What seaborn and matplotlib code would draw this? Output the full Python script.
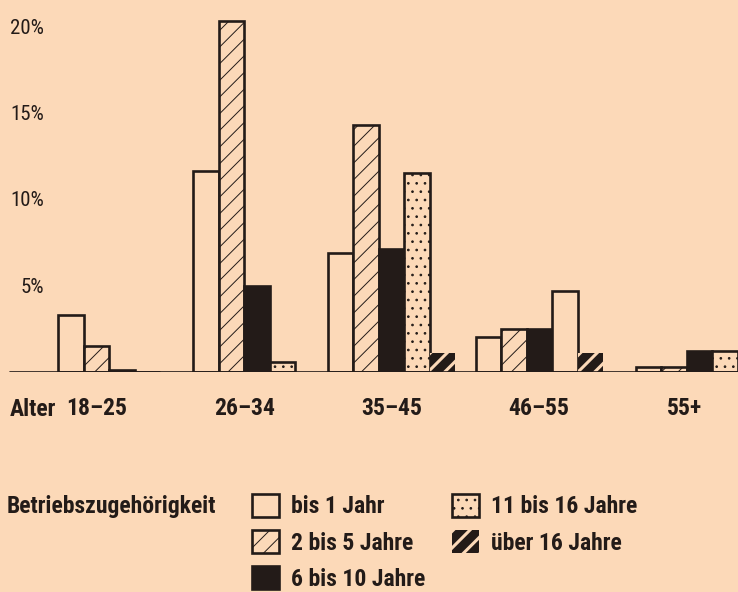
import numpy as np
import pandas as pd
import matplotlib
matplotlib.use("Agg")
import matplotlib.pyplot as plt
import matplotlib.patches as mpatches
from matplotlib import font_manager
import seaborn as sns

# ---------------- data ----------------
age_groups = ["18–25", "26–34", "35–45", "46–55", "55+"]
series = ["bis 1 Jahr", "2 bis 5 Jahre", "6 bis 10 Jahre", "11 bis 16 Jahre", "über 16 Jahre"]
bis_1_jahr = [3.3, 11.6, 6.9, 2.0, 0.3]
jahre_2_5 = [1.5, 20.3, 14.3, 2.5, 0.3]
jahre_6_10 = [0.1, 5.0, 7.1, 2.5, 1.2]
jahre_11_16 = [0.0, 0.6, 11.5, 4.7, 1.2]
ueber_16 = [0.0, 0.0, 1.1, 1.1, 0.0]
y_ticks = [5, 10, 15, 20]
y_tick_labels = ["5%", "10%", "15%", "20%"]
legend_title = "Betriebszugehörigkeit"
axis_title = "Alter"

# ---------------- layout / style ----------------
W, H = 738, 592
BG = "#FCD9B8"
DARK = "#231B18"
group_centers = [121.75, 256.75, 391.25, 539.5, 699.5]   # x positions (pixel-like units)
label_centers = [96.5, 244.5, 391.5, 539.0, 685.0]
px_per_pct = 17.3
baseline_px = 372

sns.set_theme(style="white")
avail = {f.name for f in font_manager.fontManager.ttflist}
fam = next((c for c in ["Roboto Condensed", "Liberation Sans Narrow", "Open Sans Condensed",
                        "Liberation Sans", "DejaVu Sans"] if c in avail), "DejaVu Sans")
plt.rcParams["font.family"] = [fam, "DejaVu Sans"]
plt.rcParams["hatch.linewidth"] = 0.7
plt.rcParams["text.color"] = DARK

values = [bis_1_jahr, jahre_2_5, jahre_6_10, jahre_11_16, ueber_16]
rows = []
for s, vals in zip(series, values):
    for g, c, v in zip(age_groups, group_centers, vals):
        rows.append({"Alter": g, "pos": c, "Anteil": v, "Betriebszugehörigkeit": s})
df = pd.DataFrame(rows)

palette = dict(zip(series, [BG, BG, DARK, BG, DARK]))
styles = {
    "bis 1 Jahr": dict(hatch=None, hcolor=DARK, hlw=0.7),
    "2 bis 5 Jahre": dict(hatch="//", hcolor=DARK, hlw=0.7),
    "6 bis 10 Jahre": dict(hatch=None, hcolor=DARK, hlw=0.7),
    "11 bis 16 Jahre": dict(hatch="..", hcolor=DARK, hlw=0.7),
    "über 16 Jahre": dict(hatch="//", hcolor=BG, hlw=2.2),
}

fig = plt.figure(figsize=(W / 100, H / 100), dpi=100, facecolor=BG)
ax = fig.add_axes([0, 1 - baseline_px / H, 1, baseline_px / H])
ax.set_facecolor("none")

native_gap = min(np.diff(sorted(group_centers)))
sns.barplot(data=df, x="pos", y="Anteil", hue="Betriebszugehörigkeit", hue_order=series,
            native_scale=True, dodge=True, width=127.5 / native_gap, palette=palette,
            saturation=1, errorbar=None, legend=False, edgecolor=DARK, linewidth=1.9,
            ax=ax, zorder=3)


def wrap_hatch_lw(p, lw):
    """Draw this patch with its own hatch line width."""
    if hasattr(p, "set_hatch_linewidth"):
        p.set_hatch_linewidth(lw)
    if hasattr(p, "_hatch_linewidth"):
        p._hatch_linewidth = lw
    orig = p.draw

    def draw(renderer, _orig=orig, _lw=lw):
        with plt.rc_context({"hatch.linewidth": _lw}):
            _orig(renderer)
    p.draw = draw


def style_patch(p, st):
    if st["hatch"]:
        p.set_hatch(st["hatch"])
        if hasattr(p, "set_hatchcolor"):
            p.set_hatchcolor(st["hcolor"])
        elif st["hcolor"] != DARK:
            p.set_edgecolor(st["hcolor"])
            p.set_linewidth(0)
        if st["hlw"] != 0.7:
            wrap_hatch_lw(p, st["hlw"])


for s, cont in zip(series, ax.containers):
    for g, p in zip(age_groups, cont.patches):
        style_patch(p, styles[s])
        # the 46–55 bar of this series is printed without dots in the original
        if s == "11 bis 16 Jahre" and g == "46–55":
            p.set_hatch(None)

ax.axhline(0, xmin=10 / W, xmax=1, color=DARK, lw=1.2, zorder=4)
ax.set_xlim(0, W)
ax.set_ylim(0, baseline_px / px_per_pct)
for sp in ax.spines.values():
    sp.set_visible(False)

ax.set_yticks(y_ticks, y_tick_labels)
ax.tick_params(axis="y", length=0, pad=-44 * 0.72, labelsize=15, labelcolor=DARK)
ax.set_xticks(label_centers, age_groups)
ax.tick_params(axis="x", length=0, pad=18, labelsize=17, labelcolor=DARK)
for t in ax.get_xticklabels():
    t.set_fontweight("bold")
ax.set_xlabel("")
ax.set_ylabel("")
ax.grid(False)

fig.text(10 / W, 1 - 409 / H, axis_title, ha="left", va="center", fontsize=17,
         fontweight="bold", color=DARK)
fig.text(7 / W, 1 - 506 / H, legend_title, ha="left", va="center", fontsize=17,
         fontweight="bold", color=DARK)


def make_handle(s):
    h = mpatches.Patch(facecolor=palette[s], edgecolor=DARK, linewidth=1.9)
    st = dict(styles[s])
    st["hlw"] = 0.7
    style_patch(h, st)
    return h


fs_px = 17 * 100 / 72
common = dict(frameon=False, prop={"weight": "bold", "size": 17},
              handlelength=27 / fs_px, handleheight=26 / fs_px, handletextpad=12 / fs_px,
              labelspacing=0.5, borderpad=0, borderaxespad=0, loc="upper left",
              labelcolor=DARK)
col1 = series[:3]
col2 = series[3:]
for cols, x0 in [(col1, 252), (col2, 452)]:
    leg = fig.legend([make_handle(s) for s in cols], cols,
                     bbox_to_anchor=(x0 / W, 1 - 494 / H), **common)
    for s, hp in zip(cols, leg.get_patches()):
        if styles[s]["hlw"] != 0.7:
            wrap_hatch_lw(hp, styles[s]["hlw"])

fig.savefig("out.png", dpi=100, facecolor=BG)
